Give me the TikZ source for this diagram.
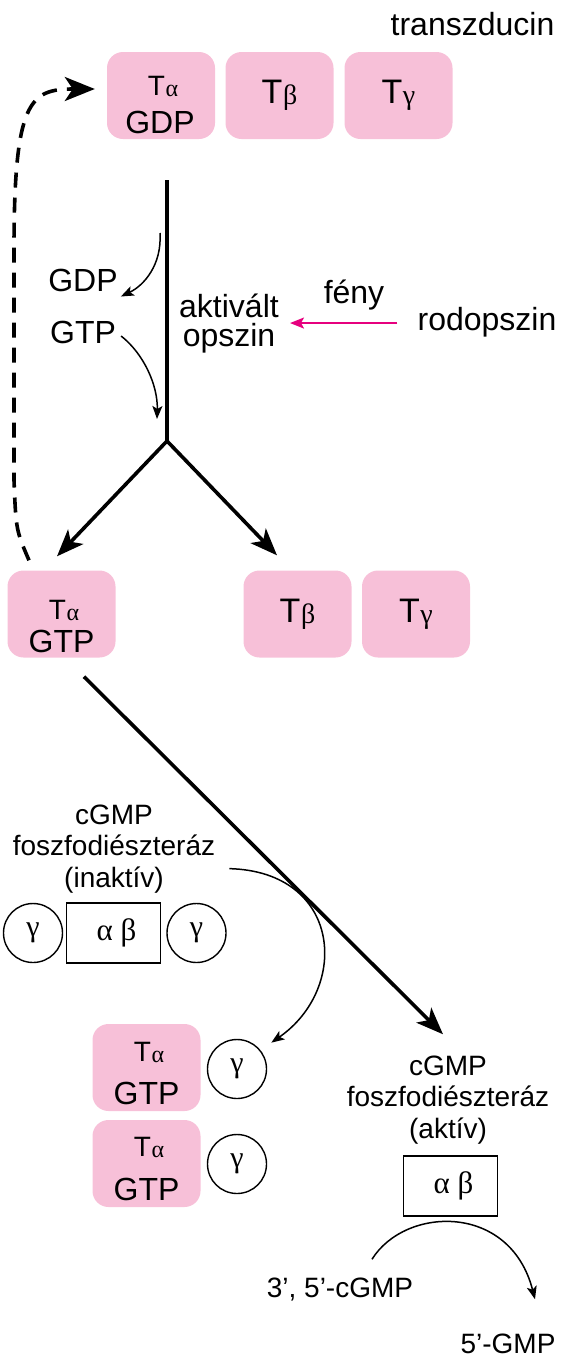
\documentclass[tikz,border=0pt]{standalone}
\usepackage{fontspec}
\setmainfont{Liberation Sans}
\newfontfamily\grk{Liberation Serif}
\usetikzlibrary{arrows.meta,calc}
\definecolor{pinkfill}{RGB}{247,192,216}
\definecolor{magline}{RGB}{230,0,126}
\newcommand{\fs}[1]{\fontsize{#1}{#1}\selectfont}
\newcommand{\Tsm}[1]{{\fs{28}T\kern0.5pt\raisebox{-1pt}{\grk\fs{24}#1}}}
\newcommand{\Tbg}[1]{{\fs{34}T\kern0.5pt\raisebox{-1.5pt}{\grk\fs{28}#1}}}
\begin{document}
\begin{tikzpicture}[x=1pt,y=-1pt,
  pbox/.style={fill=pinkfill, rounded corners=16pt, minimum width=108pt, minimum height=87pt, inner sep=0pt},
  lbl/.style={inner sep=0pt, font=\fs{32}, align=center},
  sm/.style={inner sep=0pt, font=\fontsize{28}{31.5}\selectfont, align=center},
  circ/.style={circle, draw, line width=1.4pt, minimum size=59pt, inner sep=0pt, font=\grk\fs{30}},
  ebox/.style={draw, line width=1.4pt, minimum width=94pt, minimum height=60pt, inner sep=0pt, font=\grk\fs{31}},
  bigarrow/.style={line width=3.6pt, -{Stealth[length=27pt,width=21pt,inset=7pt]}},
  thinarrow/.style={line width=1.5pt, -{Stealth[length=13pt,width=10pt,inset=3pt]}},
  magarrow/.style={draw=magline, line width=2pt, -{Stealth[length=14pt,width=11pt,inset=3pt]}},
  dasharrow/.style={line width=3.6pt, dash pattern=on 15pt off 10pt, -{Stealth[length=30pt,width=24pt,inset=8pt]}}
]
\useasboundingbox (0,0) rectangle (567,1363);

% top row
\node[pbox] (ta1) at (161,95.5) {};
\node[anchor=base, inner sep=0pt] (ta1a) at (163,95) {\Tsm{α}};
\node[lbl, anchor=base] (ta1b) at (160,133) {GDP};
\node[pbox] (tb1) at (279.5,95.5) {};
\node[anchor=base, inner sep=0pt] (tb1a) at (279.5,103) {\Tbg{β}};
\node[pbox] (tg1) at (398.5,95.5) {};
\node[anchor=base, inner sep=0pt] (tg1a) at (398.5,103) {\Tbg{γ}};
\node[lbl, anchor=base] (trans) at (472.5,35) {transzducin};

% middle labels
\node[lbl, anchor=base] (gdp) at (83,291) {GDP};
\node[lbl, anchor=base] (gtp) at (83,343) {GTP};
\node[inner sep=0pt, font=\fontsize{32}{29}\selectfont, align=center, anchor=base] (akt) at (229,346) {aktivált\\opszin};
\node[lbl, anchor=base] (feny) at (354,303) {fény};
\node[lbl, anchor=base] (rod) at (487,330) {rodopszin};

% bottom row of transducin
\node[pbox] (ta2) at (61.5,614) {};
\node[anchor=base, inner sep=0pt] (ta2a) at (64,619) {\Tsm{α}};
\node[lbl, anchor=base] (ta2b) at (61.5,652) {GTP};
\node[pbox] (tb2) at (297.5,614) {};
\node[anchor=base, inner sep=0pt] (tb2a) at (297.5,622) {\Tbg{β}};
\node[pbox] (tg2) at (416,614) {};
\node[anchor=base, inner sep=0pt] (tg2a) at (416,622) {\Tbg{γ}};

% inactive PDE
\node[sm, anchor=base] (pdeI) at (114,887) {cGMP\\foszfodiészteráz\\(inaktív)};
\node[circ] (c1) at (33,933) {γ};
\node[ebox] (ab1) at (113.5,933) {\kern6pt α β};
\node[circ] (c2) at (196.5,933) {γ};

% Talpha GTP + gamma
\node[pbox] (ta3) at (146.5,1067.5) {};
\node[anchor=base, inner sep=0pt] (ta3a) at (149,1061) {\Tsm{α}};
\node[lbl, anchor=base] (ta3b) at (146.5,1104) {GTP};
\node[pbox] (ta4) at (146.5,1163.5) {};
\node[anchor=base, inner sep=0pt] (ta4a) at (149,1156) {\Tsm{α}};
\node[lbl, anchor=base] (ta4b) at (146.5,1200) {GTP};
\node[circ] (c3) at (237,1069) {γ};
\node[circ] (c4) at (237,1164) {γ};

% active PDE
\node[sm, anchor=base] (pdeA) at (448,1138) {cGMP\\foszfodiészteráz\\(aktív)};
\node[ebox] (ab2) at (450.5,1186) {\kern6pt α β};
\node[sm, anchor=base] (cgmp) at (340,1297) {3’, 5’-cGMP};
\node[sm, anchor=base] (gmp) at (508,1353) {5’-GMP};

% main vertical line and branches
\coordinate (vtop) at (167,180);
\coordinate (apex) at (167,441);
\draw[line width=3.6pt] (vtop) -- (apex);
\draw[line width=3.6pt, {Stealth[length=27pt,width=21pt,inset=7pt]}-{Stealth[length=27pt,width=21pt,inset=7pt]}]
  ($(ta2.north)+(-4.5,-14)$) -- (apex) -- ($(tb2.north)+(-20.5,-15)$);

% GDP / GTP exchange arrows
\draw[thinarrow] ($(vtop)+(-7,53)$) .. controls ($(vtop)+(-5,85)$) and ($(gdp.south east)+(26,-6)$) .. ($(gdp.south east)+(3,5)$);
\draw[thinarrow] ($(gtp.east)+(5,4)$) .. controls ($(gtp.east)+(28,22)$) and ($(apex)+(-9,-55)$) .. ($(apex)+(-10,-22)$);

% light
\draw[magarrow] ($(rod.west |- akt.east)+(-20,0)$) -- ($(akt.east)+(11,0)$);

% dashed return
\draw[dasharrow] ($(ta2.north)+(-32.5,-10)$) .. controls (16,530) .. (14,480) -- (14,250)
  .. controls (14,100) and (30,89) .. ($(ta1.west)+(-12,-6.5)$);

% diagonal activation arrow
\draw[bigarrow] ($(ta2.south)+(22.5,19)$) -- ($(pdeA.north)+(-5,-21)$);

% gamma removal
\draw[thinarrow] ($(pdeI.east)+(14,20)$) .. controls ($(pdeI.east)+(126,23)$) and ($(c3.north east)+(92,-60)$) .. ($(c3.north east)+(13,-5)$);

% hydrolysis
\draw[thinarrow] ($(cgmp.north)+(32,-18)$) .. controls ($(cgmp.north)+(65,-71)$) and ($(gmp.north)+(2,-131)$) .. ($(gmp.north)+(27,-34)$);
\end{tikzpicture}
\end{document}
